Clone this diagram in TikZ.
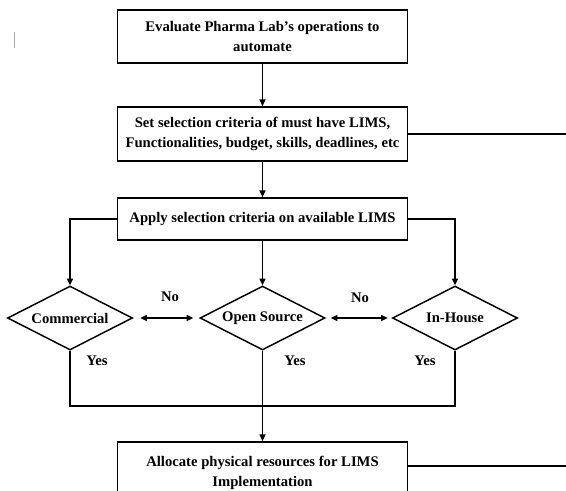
\documentclass[tikz,border=0pt]{standalone}
\usepackage{fontspec}
\setmainfont{Liberation Serif}
\usetikzlibrary{arrows.meta,shapes.geometric}
\begin{document}
\begin{tikzpicture}[x=0.75pt,y=-0.75pt,
  every node/.style={font=\fontsize{11}{15}\selectfont\bfseries},
  stepbox/.style={draw,line width=1.3pt,minimum width=217.5pt,inner sep=0pt,align=center},
  choice/.style={draw,diamond,line width=1.1pt,minimum width=93.75pt,minimum height=48pt,inner sep=0pt,shape aspect=2},
  flow/.style={line width=1pt},
  arr/.style={flow,-{Triangle[length=5pt,width=4.5pt]}},
  biarr/.style={flow,{Triangle[length=5pt,width=4.5pt]}-{Triangle[length=5pt,width=4.5pt]}},
  lbl/.style={inner sep=1pt}]
\useasboundingbox (0,0) rectangle (566,490);
\clip (0,0) rectangle (566,490);

% process boxes
\node[stepbox,minimum height=39.75pt] (b1) at (262.5,36.5)
  {Evaluate Pharma Lab’s operations to\\automate};
\node[stepbox,minimum height=40.5pt] (b2) at (262.5,134)
  {Set selection criteria of must have LIMS,\\Functionalities, budget, skills, deadlines, etc};
\node[stepbox,minimum height=31.5pt] (b3) at (262.5,219)
  {Apply selection criteria on available LIMS};
\node[stepbox,minimum height=46.5pt,anchor=north] (b4) at (262.5,441)
  {Allocate physical resources for LIMS\\Implementation};

% decisions
\node[choice] (d1) at (70,318) {Commercial};
\node[choice] (d2) at (262.5,318) {Open Source};
\node[choice] (d3) at (455,318) {In-House};

% free ends and junction
\coordinate (e1) at (566,134);
\coordinate (e2) at (566,466);
\coordinate (j) at (262.5,406);

% connectors
\draw[arr] (b1.south) -- (b2.north);
\draw[arr] (b2.south) -- (b3.north);
\draw[flow] (b2.east) -- (e1);
\draw[arr] (b3.west) -| (d1.north);
\draw[arr] (b3.south) -- (d2.north);
\draw[arr] (b3.east) -| (d3.north);
\draw[biarr,shorten <=5.25pt,shorten >=4.5pt] (d1.east) -- (d2.west);
\draw[biarr,shorten <=3.75pt,shorten >=3pt] (d2.east) -- (d3.west);
\draw[flow] (d1.south) |- (j) -| (d3.south);
\draw[arr] (d2.south) -- (b4.north);
\draw[flow] (b4.east |- e2) -- (e2);

% labels
\node[lbl] (n1) at (170,297) {No};
\node[lbl] (n2) at (360,298) {No};
\node[lbl] (y1) at (97,361) {Yes};
\node[lbl] (y2) at (295,361) {Yes};
\node[lbl] (y3) at (425,361) {Yes};

% text cursor mark
\draw[gray!70,line width=0.6pt] (14,32) -- (14,48);
\end{tikzpicture}
\end{document}
